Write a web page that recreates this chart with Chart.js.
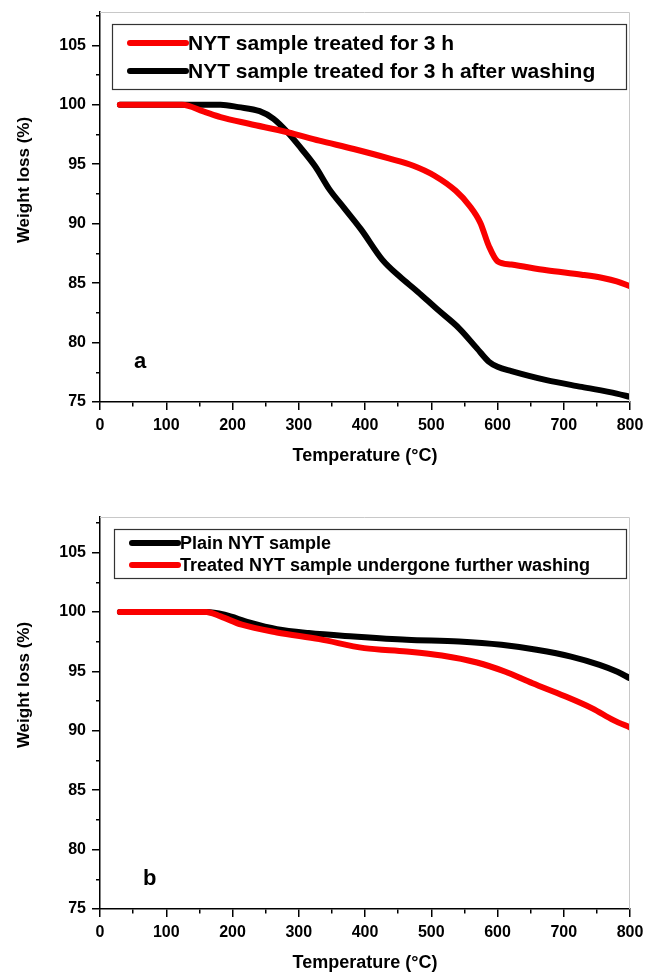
<!DOCTYPE html>
<html>
<head>
<meta charset="utf-8">
<script src="https://cdn.jsdelivr.net/npm/chart.js@4.4.1/dist/chart.umd.min.js"></script>
<style>
body { margin: 0; background: #fff; }
.box { position: absolute; left: 0; width: 645px; height: 488px; }
</style>
</head>
<body>
<div class="box" style="top:0"><canvas id="chartA"></canvas></div>
<div class="box" style="top:488px"><canvas id="chartB"></canvas></div>
<script>
// panel a
let tempA_red = [30, 124, 156, 182, 225, 283, 331, 383, 436, 473, 505, 537, 558, 574, 587, 600, 621, 674, 727, 759, 780, 800];
let lossA_red = [100, 100, 99.44, 98.96, 98.4, 97.69, 96.98, 96.28, 95.49, 94.87, 94.03, 92.76, 91.49, 90.08, 88.11, 86.84, 86.56, 86.08, 85.71, 85.43, 85.15, 84.73];
let tempA_black = [30, 182, 209, 241, 262, 283, 304, 325, 346, 368, 394, 426, 452, 479, 510, 542, 569, 587, 600, 621, 674, 727, 780, 800];
let lossA_black = [100, 100, 99.8, 99.46, 98.82, 97.69, 96.3, 94.8, 92.9, 91.35, 89.52, 86.98, 85.57, 84.3, 82.75, 81.2, 79.51, 78.39, 77.96, 77.6, 76.84, 76.27, 75.71, 75.43];

// panel b
let tempB_black = [30, 161, 188, 225, 267, 315, 383, 463, 542, 606, 659, 711, 754, 780, 800];
let lossB_black = [100, 100, 99.77, 99.13, 98.56, 98.23, 97.94, 97.66, 97.52, 97.24, 96.82, 96.25, 95.55, 94.99, 94.42];
let tempB_red = [30, 161, 182, 214, 267, 331, 399, 463, 516, 569, 611, 653, 701, 743, 775, 800];
let lossB_red = [100, 100, 99.63, 98.93, 98.28, 97.72, 96.96, 96.68, 96.34, 95.75, 94.99, 94.0, 92.93, 91.89, 90.9, 90.28];

let labelA_red = "NYT sample treated for 3 h";
let labelA_black = "NYT sample treated for 3 h after washing";
let labelB_black = "Plain NYT sample";
let labelB_red = "Treated NYT sample undergone further washing";

const FONT = "'Liberation Sans', Arial, sans-serif";
const RED = "rgb(250,0,0)";

function points(xs, ys) {
    return xs.map((x, i) => ({ x: x, y: ys[i] }));
}

function series(label, xs, ys, color, order) {
    return {
        label: label,
        data: points(xs, ys),
        borderColor: color,
        backgroundColor: color,
        borderWidth: 6,
        borderCapStyle: 'round',
        borderJoinStyle: 'round',
        pointRadius: 0,
        cubicInterpolationMode: 'monotone',
        order: order
    };
}

// minor ticks: only the half next to the axis is drawn
function tickGrid(major, minorDash) {
    return {
        drawOnChartArea: false, color: '#000', lineWidth: 1.5, tickLength: 8,
        tickBorderDash: c => (c.tick && c.tick.value % major === 0) ? [] : minorDash
    };
}

function xAxis() {
    return {
        type: 'linear', min: 0, max: 800,
        border: { color: '#000', width: 1.5 },
        grid: tickGrid(100, [4, 100]),
        ticks: {
            stepSize: 50, padding: 6, color: '#000', autoSkip: false, maxRotation: 0,
            font: { family: FONT, size: 16, weight: 'bold' },
            callback: v => v % 100 === 0 ? v : ''
        },
        title: {
            display: true, text: 'Temperature (°C)', color: '#000',
            font: { family: FONT, size: 18, weight: 'bold' },
            padding: { top: 0, bottom: 2 }
        },
        afterFit: s => { s.height = 67; s.paddingLeft = 0; s.paddingRight = 0; }
    };
}

function yAxis(max) {
    return {
        type: 'linear', min: 75, max: max,
        border: { color: '#000', width: 1.5 },
        grid: tickGrid(5, [0, 4, 4, 100]),
        ticks: {
            stepSize: 2.5, includeBounds: false, padding: 6, color: '#000', autoSkip: false,
            font: { family: FONT, size: 16, weight: 'bold' },
            callback: v => v % 5 === 0 ? v : ''
        },
        afterFit: s => { s.width = 100; s.paddingTop = 0; s.paddingBottom = 0; }
    };
}

// frame, legend box, panel letter, y title
const decor = {
    id: 'decor',
    afterDraw(chart, args, o) {
        const ctx = chart.ctx;
        const a = chart.chartArea;
        ctx.save();
        ctx.strokeStyle = '#c8c8c8';
        ctx.lineWidth = 1;
        ctx.beginPath();
        ctx.moveTo(a.left, a.top + 0.5);
        ctx.lineTo(a.right - 0.5, a.top + 0.5);
        ctx.lineTo(a.right - 0.5, a.bottom);
        ctx.stroke();

        // legend
        const b = o.box;
        ctx.strokeStyle = '#333';
        ctx.lineWidth = 1.2;
        ctx.strokeRect(b[0] + 0.5, b[1] + 0.5, b[2] - b[0], b[3] - b[1]);
        ctx.font = 'bold ' + o.size + 'px ' + FONT;
        ctx.textBaseline = 'middle';
        ctx.textAlign = 'left';
        chart.data.datasets.forEach((ds, i) => {
            const y = o.rows[i];
            ctx.strokeStyle = ds.borderColor;
            ctx.lineWidth = 6;
            ctx.lineCap = 'round';
            ctx.beginPath();
            ctx.moveTo(o.sample[0], y);
            ctx.lineTo(o.sample[1], y);
            ctx.stroke();
            ctx.fillStyle = '#000';
            ctx.fillText(ds.label, o.sample[1] + 2, y + 1);
        });

        // panel letter
        ctx.font = 'bold 22px ' + FONT;
        ctx.textBaseline = 'alphabetic';
        ctx.fillText(o.letter, o.letterPos[0], o.letterPos[1]);

        // y axis title
        ctx.translate(24, a.top + 168);
        ctx.rotate(-Math.PI / 2);
        ctx.textAlign = 'center';
        ctx.textBaseline = 'middle';
        ctx.font = 'bold 17px ' + FONT;
        ctx.fillText('Weight loss (%)', 0, 0);
        ctx.restore();
    }
};

function makeChart(id, datasets, ymax, pad, deco) {
    return new Chart(document.getElementById(id), {
        type: 'line',
        data: { datasets: datasets },
        options: {
            responsive: true,
            maintainAspectRatio: false,
            animation: false,
            layout: { padding: pad },
            plugins: { legend: { display: false }, tooltip: { enabled: false }, decor: deco },
            scales: { x: xAxis(), y: yAxis(ymax) }
        },
        plugins: [decor]
    });
}

let chartA = makeChart("chartA", [
    series(labelA_red, tempA_red, lossA_red, RED, 0),
    series(labelA_black, tempA_black, lossA_black, '#000', 1)
], 107.8, { top: 12, right: 15, bottom: 19, left: 0 }, {
    box: [112, 24, 626, 89], rows: [43, 71], sample: [130, 186], size: 21,
    letter: 'a', letterPos: [134, 368]
});

let chartB = makeChart("chartB", [
    series(labelB_black, tempB_black, lossB_black, '#000', 1),
    series(labelB_red, tempB_red, lossB_red, RED, 0)
], 108, { top: 29, right: 15, bottom: 0, left: 0 }, {
    box: [114, 41, 626, 90], rows: [55, 77], sample: [132, 178], size: 18,
    letter: 'b', letterPos: [143, 397]
});
</script>
</body>
</html>
